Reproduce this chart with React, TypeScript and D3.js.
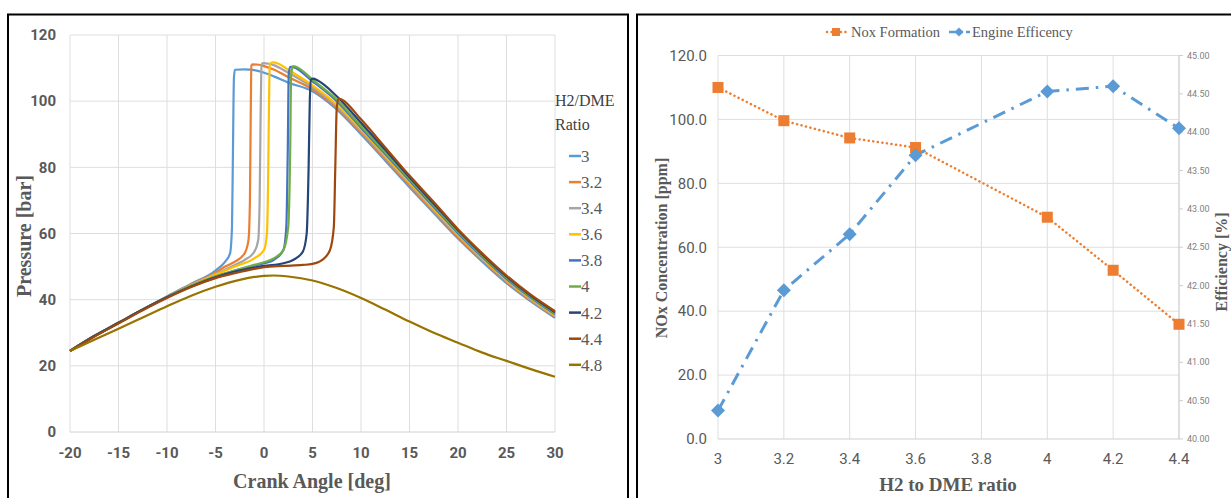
import React from "react";
import * as d3 from "d3";

// ---------- Left chart data (Crank angle [deg], Pressure [bar]) ----------
const ratioLabels = ["3", "3.2", "3.4", "3.6", "3.8", "4", "4.2", "4.4", "4.8"];
const ratioColors = ["#5B9BD5", "#ED7D31", "#A5A5A5", "#FFC000", "#4472C4", "#70AD47", "#264478", "#9E480E", "#997300"];

const s30: [number, number][] = [[-20,24.5],[-17.5,29],[-15,33],[-12.5,37],[-10,41],[-7.5,44.8],[-5,48.8],[-4,51.5],[-3.5,54],[-3.3,62],[-3.2,85],[-3.1,107],[-3,109.5],[-2,109.6],[-1,109.4],[0,108.6],[1,107.5],[2.5,105.6],[5,103],[7.5,97.5],[10,90],[12.5,82],[15,74],[17.5,66.2],[20,58.5],[22.5,51.5],[25,45],[27.5,39.5],[30,34.5]];
const s32: [number, number][] = [[-20,24.5],[-17.5,29],[-15,33],[-12.5,37],[-10,40.9],[-7.5,44.6],[-5,48.2],[-4,50],[-3,51.5],[-2,54],[-1.6,58],[-1.45,70],[-1.37,95],[-1.3,110.8],[-1.2,111.1],[-0.5,111],[0,110.6],[1,109.6],[2.5,107.3],[5,103.6],[7.5,98],[10,90.5],[12.5,82.5],[15,74.5],[17.5,66.6],[20,58.9],[22.5,51.9],[25,45.4],[27.5,39.8],[30,34.8]];
const s34: [number, number][] = [[-20,24.5],[-17.5,29],[-15,33],[-12.5,37],[-10,40.9],[-7.5,44.5],[-5,47.8],[-3,50.5],[-2,52],[-1,54.5],[-0.6,58],[-0.45,70],[-0.35,95],[-0.25,111],[-0.1,111.5],[0.5,111.3],[1,110.9],[2.5,108.6],[5,104.2],[7.5,98.5],[10,91],[12.5,83],[15,75],[17.5,67],[20,59.3],[22.5,52.2],[25,45.7],[27.5,40],[30,35]];
const s36: [number, number][] = [[-20,24.5],[-17.5,29],[-15,33],[-12.5,37],[-10,40.8],[-7.5,44.4],[-5,47.5],[-3,50],[-1,52.5],[0,55],[0.3,60],[0.42,75],[0.52,100],[0.6,111.2],[0.9,111.7],[1.5,111.3],[2.5,109.5],[5,104.8],[7.5,99],[10,91.5],[12.5,83.5],[15,75.5],[17.5,67.5],[20,59.7],[22.5,52.5],[25,46],[27.5,40.3],[30,35.3]];
const s38: [number, number][] = [[-20,24.5],[-17.5,29],[-15,33],[-12.5,37],[-10,40.8],[-7.5,44.2],[-5,47],[-3,48.8],[-1,50.3],[0,51],[1,52],[2,55],[2.3,62],[2.45,85],[2.55,108],[2.7,110.4],[3,110.3],[5,106],[7.5,100],[10,92],[12.5,84],[15,76],[17.5,68],[20,60.1],[22.5,52.9],[25,46.3],[27.5,40.6],[30,35.6]];
const s40: [number, number][] = [[-20,24.5],[-17.5,29],[-15,33],[-12.5,37],[-10,40.8],[-7.5,44.2],[-5,47],[-3,48.8],[-1,50.5],[0,51.3],[1,52.5],[2,55],[2.5,62],[2.7,85],[2.8,108],[3,110.6],[3.3,110.4],[5,106.5],[7.5,100.5],[10,92.5],[12.5,84.5],[15,76.5],[17.5,68.5],[20,60.5],[22.5,53.3],[25,46.7],[27.5,40.9],[30,35.9]];
const s42: [number, number][] = [[-20,24.5],[-17.5,29],[-15,33],[-12.5,37],[-10,40.7],[-7.5,44],[-5,46.8],[-3,48.5],[-1,49.7],[0,50.2],[2,51],[3,52],[4,54.5],[4.4,60],[4.6,80],[4.72,100],[4.85,106.5],[5.1,106.8],[5.5,106.3],[7.5,101.5],[10,93.5],[12.5,85.3],[15,77],[17.5,69],[20,61],[22.5,53.7],[25,47],[27.5,41.2],[30,36.2]];
const s44: [number, number][] = [[-20,24.5],[-17.5,28.8],[-15,32.8],[-12.5,36.8],[-10,40.5],[-7.5,43.8],[-5,46.5],[-3,48],[-1,49.3],[0,49.8],[2,50.2],[4,50.5],[5,50.8],[6,52],[6.8,55],[7.2,62],[7.35,80],[7.5,98],[7.7,100.8],[8,100.5],[10,94.5],[12.5,86],[15,77.5],[17.5,69.5],[20,61.3],[22.5,54],[25,47.3],[27.5,41.5],[30,36.5]];
const s48: [number, number][] = [[-20,24.5],[-17.5,27.9],[-15,31.2],[-12.5,34.6],[-10,38],[-7.5,41.2],[-5,43.9],[-2.5,46],[0,47.2],[1,47.3],[2.5,47],[5,45.8],[7.5,43.5],[10,40.5],[12.5,37],[15,33.4],[17.5,30],[20,27],[22.5,24],[25,21.5],[27.5,19],[30,16.7]];
const pressureSeries = [s30, s32, s34, s36, s38, s40, s42, s44, s48];

const angleTicks = [-20, -15, -10, -5, 0, 5, 10, 15, 20, 25, 30];
const pressureTicks = [0, 20, 40, 60, 80, 100, 120];

// ---------- Right chart data ----------
const ratioTicks = [3, 3.2, 3.4, 3.6, 3.8, 4, 4.2, 4.4];
const noxRatios = [3, 3.2, 3.4, 3.6, 4, 4.2, 4.4];
const noxValues = [110.0, 99.6, 94.2, 91.2, 69.4, 52.8, 35.9];
const effRatios = [3, 3.2, 3.4, 3.6, 4, 4.2, 4.4];
const effValues = [40.37, 41.94, 42.67, 43.70, 44.53, 44.60, 44.05];
const noxTicks = [0, 20, 40, 60, 80, 100, 120];
const effTicks = [40, 40.5, 41, 41.5, 42, 42.5, 43, 43.5, 44, 44.5, 45];

const SERIF = "'Liberation Serif', 'Times New Roman', serif";
const SANS_N = "'Liberation Sans Narrow', 'Roboto', 'Liberation Sans', sans-serif";
const SANS = "'Roboto', 'Liberation Sans', sans-serif";
const GRID = "#dedede";
const TXT = "#595959";

function LeftChart() {
  const x = d3.scaleLinear().domain([-20, 30]).range([70, 555]);
  const y = d3.scaleLinear().domain([0, 120]).range([432, 35]);
  const line = d3
    .line<[number, number]>()
    .x((d) => x(d[0]))
    .y((d) => y(d[1]))
    .curve(d3.curveMonotoneX);
  return (
    <g>
      {angleTicks.map((t) => (
        <line key={"vx" + t} x1={x(t)} x2={x(t)} y1={y(0)} y2={y(120)} stroke={GRID} strokeWidth={1} />
      ))}
      {pressureTicks.map((t) => (
        <line key={"hy" + t} x1={x(-20)} x2={x(30)} y1={y(t)} y2={y(t)} stroke={t === 0 ? "#d0d0d0" : GRID} strokeWidth={1} />
      ))}
      {pressureTicks.map((t) => (
        <text key={"ly" + t} x={56} y={y(t)} dy="0.35em" textAnchor="end" fontFamily={SANS_N} fontWeight={700} fontSize={15} fill={TXT}>
          {t}
        </text>
      ))}
      {angleTicks.map((t) => (
        <text key={"lx" + t} x={x(t)} y={458} textAnchor="middle" fontFamily={SANS_N} fontWeight={700} fontSize={15} fill={TXT}>
          {t}
        </text>
      ))}
      {pressureSeries.map((s, i) => (
        <path key={"s" + i} d={line(s) || ""} fill="none" stroke={ratioColors[i]} strokeWidth={2.2} strokeLinejoin="round" />
      ))}
      <text x={312} y={488} textAnchor="middle" fontFamily={SERIF} fontWeight={700} fontSize={20} fill={TXT}>
        Crank Angle [deg]
      </text>
      <text transform="translate(31,236) rotate(-90)" textAnchor="middle" fontFamily={SERIF} fontWeight={700} fontSize={20} fill={TXT}>
        Pressure [bar]
      </text>
      <text x={555} y={106} fontFamily={SERIF} fontSize={16} fill="#404040">H2/DME</text>
      <text x={555} y={130} fontFamily={SERIF} fontSize={16} fill="#404040">Ratio</text>
      {ratioLabels.map((r, i) => {
        const cy = 156 + i * 26.1;
        return (
          <g key={"lg" + r}>
            <line x1={569} x2={581} y1={cy} y2={cy} stroke={ratioColors[i]} strokeWidth={2.5} />
            <text x={581} y={cy} dy="0.35em" fontFamily={SERIF} fontSize={17} fill={TXT}>
              {r}
            </text>
          </g>
        );
      })}
    </g>
  );
}

function RightChart() {
  const x = d3.scaleLinear().domain([3, 4.4]).range([718, 1179]);
  const yL = d3.scaleLinear().domain([0, 120]).range([439, 55.5]);
  const yR = d3.scaleLinear().domain([40, 45]).range([439, 55.5]);
  const noxPts: [number, number][] = noxRatios.map((r, i) => [x(r), yL(noxValues[i])]);
  const effPts: [number, number][] = effRatios.map((r, i) => [x(r), yR(effValues[i])]);
  const lineGen = d3.line<[number, number]>();
  const sq = 11;
  const dm = 7;
  const NOX = "#ED7D31";
  const EFF = "#5B9BD5";
  return (
    <g>
      {ratioTicks.map((t) => (
        <line key={"vx" + t} x1={x(t)} x2={x(t)} y1={yL(0)} y2={yL(120)} stroke={GRID} strokeWidth={1} />
      ))}
      {noxTicks.map((t) => (
        <line key={"hy" + t} x1={x(3)} x2={x(4.4)} y1={yL(t)} y2={yL(t)} stroke={t === 0 ? "#cfcfcf" : GRID} strokeWidth={1} />
      ))}
      <line x1={x(4.4)} x2={x(4.4)} y1={yL(0)} y2={yL(120)} stroke="#cfcfcf" strokeWidth={1} />
      {effTicks.map((t) => (
        <g key={"rt" + t}>
          <line x1={x(4.4)} x2={x(4.4) + 4} y1={yR(t)} y2={yR(t)} stroke="#cfcfcf" strokeWidth={1} />
          <text x={x(4.4) + 8} y={yR(t)} dy="0.35em" fontFamily={SANS} fontSize={9} fill="#7f7f7f">
            {t.toFixed(2)}
          </text>
        </g>
      ))}
      {noxTicks.map((t) => (
        <text key={"ly" + t} x={707} y={yL(t)} dy="0.35em" textAnchor="end" fontFamily={SANS_N} fontSize={15} fill={TXT}>
          {t.toFixed(1)}
        </text>
      ))}
      {ratioTicks.map((t) => (
        <text key={"lx" + t} x={x(t)} y={464} textAnchor="middle" fontFamily={SANS_N} fontSize={15} fill={TXT}>
          {String(t)}
        </text>
      ))}
      <path d={lineGen(noxPts) || ""} fill="none" stroke={NOX} strokeWidth={2.5} strokeDasharray="0.1,4.5" strokeLinecap="round" />
      <path d={lineGen(effPts) || ""} fill="none" stroke={EFF} strokeWidth={3} strokeDasharray="13,7,2.5,7" />
      {noxPts.map((p, i) => (
        <rect key={"nx" + i} x={p[0] - sq / 2} y={p[1] - sq / 2} width={sq} height={sq} fill={NOX} />
      ))}
      {effPts.map((p, i) => (
        <path key={"ef" + i} d={`M${p[0]},${p[1] - dm}L${p[0] + dm},${p[1]}L${p[0]},${p[1] + dm}L${p[0] - dm},${p[1]}Z`} fill={EFF} />
      ))}
      {/* legend */}
      <line x1={827} x2={846} y1={32} y2={32} stroke={NOX} strokeWidth={2.5} strokeDasharray="0.1,4.5" strokeLinecap="round" />
      <rect x={832} y={28} width={8} height={8} fill={NOX} />
      <text x={851} y={32} dy="0.35em" fontFamily={SERIF} fontSize={14.5} fill={TXT}>Nox Formation</text>
      <line x1={949} x2={970} y1={32} y2={32} stroke={EFF} strokeWidth={2.5} strokeDasharray="9,3,2,3" />
      <path d="M959,27.5L963.5,32L959,36.5L954.5,32Z" fill={EFF} />
      <text x={972} y={32} dy="0.35em" fontFamily={SERIF} fontSize={14.5} fill={TXT}>Engine Efficency</text>
      <text x={948} y={491} textAnchor="middle" fontFamily={SERIF} fontWeight={700} fontSize={19} fill={TXT}>
        H2 to DME ratio
      </text>
      <text transform="translate(667,248) rotate(-90)" textAnchor="middle" fontFamily={SERIF} fontWeight={700} fontSize={16} fill={TXT}>
        NOx Concentration [ppm]
      </text>
      <text transform="translate(1227,262) rotate(-90)" textAnchor="middle" fontFamily={SERIF} fontWeight={700} fontSize={16} fill={TXT}>
        Efficiency [%]
      </text>
    </g>
  );
}

export default function App() {
  return (
    <svg
      width={1231}
      height={498}
      style={{ position: "absolute", left: 0, top: 0, background: "#ffffff", display: "block" }}
    >
      <rect x={0} y={0} width={1231} height={498} fill="#ffffff" />
      <rect x={8} y={14.5} width={620} height={500} fill="none" stroke="#000" strokeWidth={2} />
      <rect x={637} y={14.5} width={620} height={500} fill="none" stroke="#000" strokeWidth={2} />
      <LeftChart />
      <RightChart />
    </svg>
  );
}
